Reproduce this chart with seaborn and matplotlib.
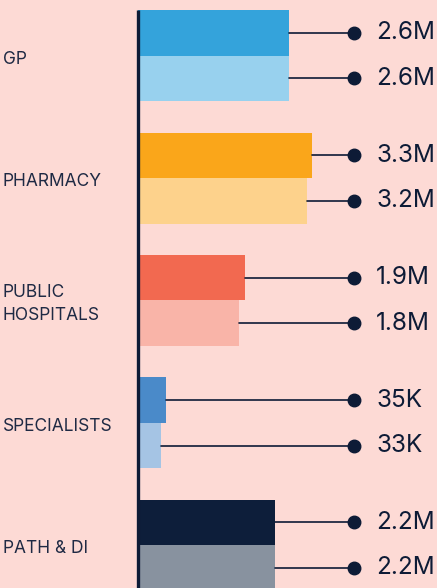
import pandas as pd
import matplotlib.pyplot as plt
import seaborn as sns

# categories and the two series per category
categories = ["GP", "PHARMACY", "PUBLIC\nHOSPITALS", "SPECIALISTS", "PATH & DI"]
labels_top = ["2.6M", "3.3M", "1.9M", "35K", "2.2M"]
labels_bottom = ["2.6M", "3.2M", "1.8M", "33K", "2.2M"]

# bar lengths as drawn in the picture (specialists are not to scale)
length_top = [151, 174, 107, 28, 137]
length_bottom = [151, 169, 101, 23, 137]

colors_top = ["#34A3DB", "#FAA61A", "#F26950", "#4A8AC9", "#0D1E3A"]
colors_bottom = ["#98D1EE", "#FDD28C", "#F9B4A8", "#A5C4E4", "#88929F"]

bg = "#FDDAD5"
navy = "#0D1B36"
text_col = "#1F2A44"

df = pd.DataFrame({
    "category": categories * 2,
    "series": ["top"] * 5 + ["bottom"] * 5,
    "length": length_top + length_bottom,
})

sns.set_theme(style="white")
plt.rcParams["font.family"] = ["Inter", "DejaVu Sans"]

fig = plt.figure(figsize=(4.37, 5.88), dpi=100, facecolor=bg)
ax = fig.add_axes([0, 0, 1, 1])
ax.set_facecolor(bg)

bw = 0.743
sns.barplot(data=df, y="category", x="length", hue="series", orient="h",
            width=bw, dodge=True, saturation=1, linewidth=0, legend=False, ax=ax)

# recolour each bar by category
for cont, cols in zip(ax.containers, [colors_top, colors_bottom]):
    for bar, c in zip(cont, cols):
        bar.set_color(c)
        bar.set_edgecolor("none")

x_dot = 216.5
x_txt = 238.5
for i in range(len(categories)):
    for off, ln, lab in [(-bw / 4, length_top[i], labels_top[i]),
                         (bw / 4, length_bottom[i], labels_bottom[i])]:
        y = i + off
        ax.plot([ln, x_dot], [y, y], color=navy, lw=1.2, zorder=3)
        ax.plot(x_dot, y, "o", color=navy, ms=9, zorder=4)
        ax.text(x_txt, y, lab, color=navy, fontsize=17.5, va="center", ha="left")
    ax.text(-134.5, i + 0.03, categories[i], color=text_col, fontsize=12.5,
            va="center", ha="left", linespacing=1.45)

# axis line on the left of the bars
ax.plot([0, 0], [-bw / 2, 5], color=navy, lw=2.4, zorder=5, solid_capstyle="butt")

ax.set_xlim(-137.5, 299.5)
ax.set_ylim(4.35, -0.455)
ax.set_xlabel("")
ax.set_ylabel("")
ax.set_xticks([])
ax.set_yticks([])
for s in ax.spines.values():
    s.set_visible(False)

fig.savefig("out.png", dpi=100, facecolor=bg)
